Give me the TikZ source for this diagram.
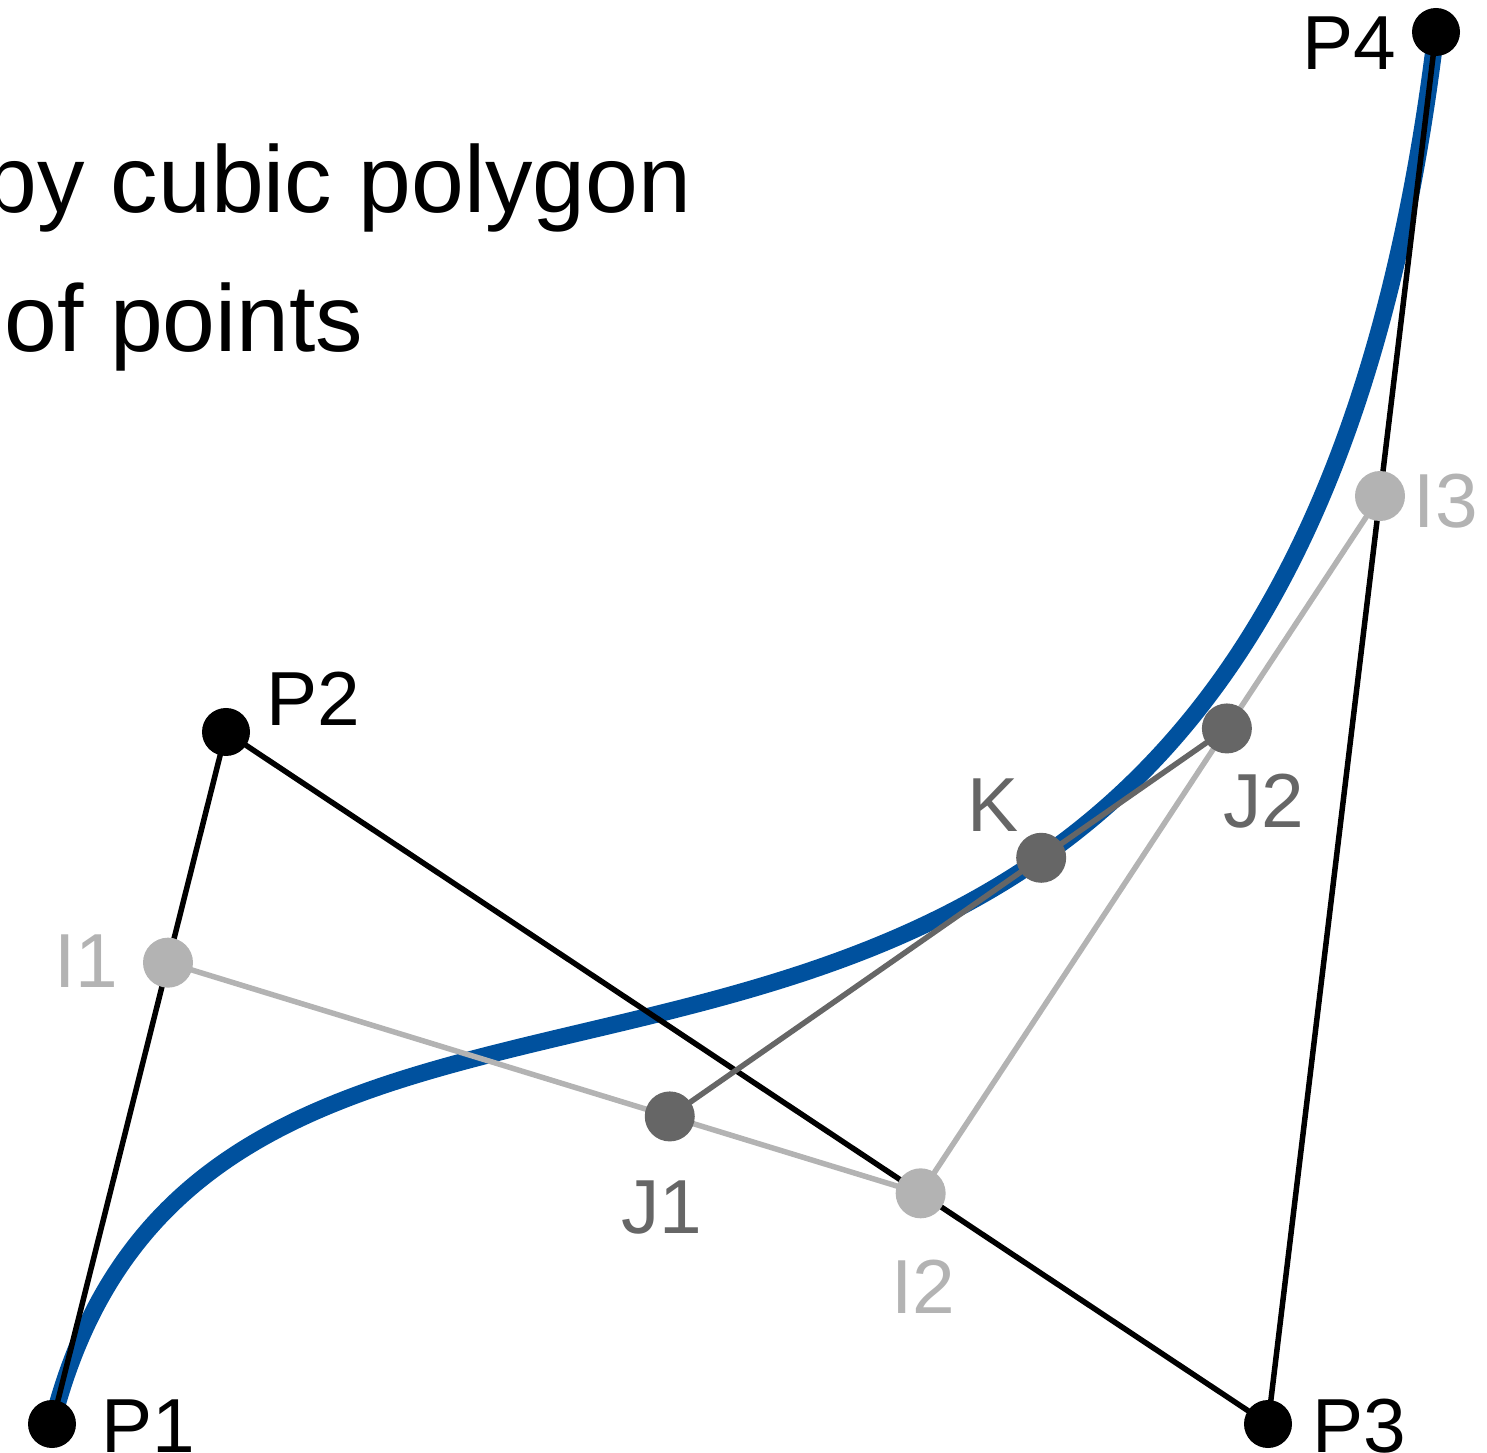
\documentclass[tikz,border=0pt]{standalone}
\usepackage{fontspec}
\setmainfont{Liberation Sans}
\usetikzlibrary{calc}
\definecolor{curveblue}{HTML}{00519E}
\definecolor{lightgray}{HTML}{B3B3B3}
\definecolor{darkgray}{HTML}{666666}
\tikzset{
  dot/.style={circle, fill=#1, inner sep=0pt, minimum size=0.48cm},
  bigdot/.style={circle, fill=#1, inner sep=0pt, minimum size=0.50cm},
  ptlabel/.style={text=#1, inner sep=0pt, font=\fontsize{21.8pt}{26pt}\selectfont},
  polyline/.style={draw=#1, line width=0.055cm},
}
\begin{document}
\begin{tikzpicture}
    \useasboundingbox (0,0) rectangle (14.87,14.52);
    % 制御点
    \coordinate (P1) at (0.52,0.28);
    \coordinate (P2) at (2.26,7.20);
    \coordinate (P3) at (12.68,0.28);
    \coordinate (P4) at (14.36,14.20);
    % t = 2/3 での分割点
    \coordinate (I1) at ($(P1)!2/3!(P2)$);
    \coordinate (I2) at ($(P2)!2/3!(P3)$);
    \coordinate (I3) at ($(P3)!2/3!(P4)$);
    \coordinate (J1) at ($(I1)!2/3!(I2)$);
    \coordinate (J2) at ($(I2)!2/3!(I3)$);
    \coordinate (K) at ($(J1)!2/3!(J2)$);
    % 見出し
    \node[anchor=base east, inner sep=0pt, font=\fontsize{27pt}{32pt}\selectfont] (title1) at (6.92,12.39) {by cubic polygon};
    \node[anchor=base west, inner sep=0pt, font=\fontsize{27pt}{32pt}\selectfont] (title2) at (0.04,11.00) {of points};
    % ベジエ曲線
    \draw[curveblue, line width=0.17cm] (P1) .. controls (P2) and (P3) .. (P4);
    % 多角形
    \draw[polyline=black] (P1) -- (P2) -- (P3) -- (P4);
    \draw[polyline=lightgray] (I1) -- (I2) -- (I3);
    \draw[polyline=darkgray] (J1) -- (J2);
    % 点
    \foreach \p in {P1,P2,P3,P4} \node[dot=black] (d\p) at (\p) {};
    \foreach \p in {I1,I2,I3} \node[bigdot=lightgray] (d\p) at (\p) {};
    \foreach \p in {J1,J2,K} \node[bigdot=darkgray] (d\p) at (\p) {};
    % ラベル
    \node[ptlabel=black, anchor=base west] (lP1) at ([shift={(0.49,-0.28)}]P1) {P1};
    \node[ptlabel=black, anchor=base west] (lP2) at ([shift={(0.40,0.06)}]P2) {P2};
    \node[ptlabel=black, anchor=base west] (lP3) at ([shift={(0.44,-0.28)}]P3) {P3};
    \node[ptlabel=black, anchor=base east] (lP4) at ([shift={(-0.39,-0.38)}]P4) {P4};
    \node[ptlabel=lightgray, anchor=base east] (lI1) at ([shift={(-0.49,-0.25)}]I1) {I1};
    \node[ptlabel=lightgray, anchor=base west] (lI2) at ([shift={(-0.30,-1.20)}]I2) {I2};
    \node[ptlabel=lightgray, anchor=base west] (lI3) at ([shift={(0.33,-0.31)}]I3) {I3};
    \node[ptlabel=darkgray, anchor=base west] (lJ1) at ([shift={(-0.49,-1.17)}]J1) {J1};
    \node[ptlabel=darkgray, anchor=base west] (lJ2) at ([shift={(-0.04,-0.99)}]J2) {J2};
    \node[ptlabel=darkgray, anchor=base west] (lK) at ([shift={(-0.74,0.26)}]K) {K};
  \end{tikzpicture}
\end{document}
